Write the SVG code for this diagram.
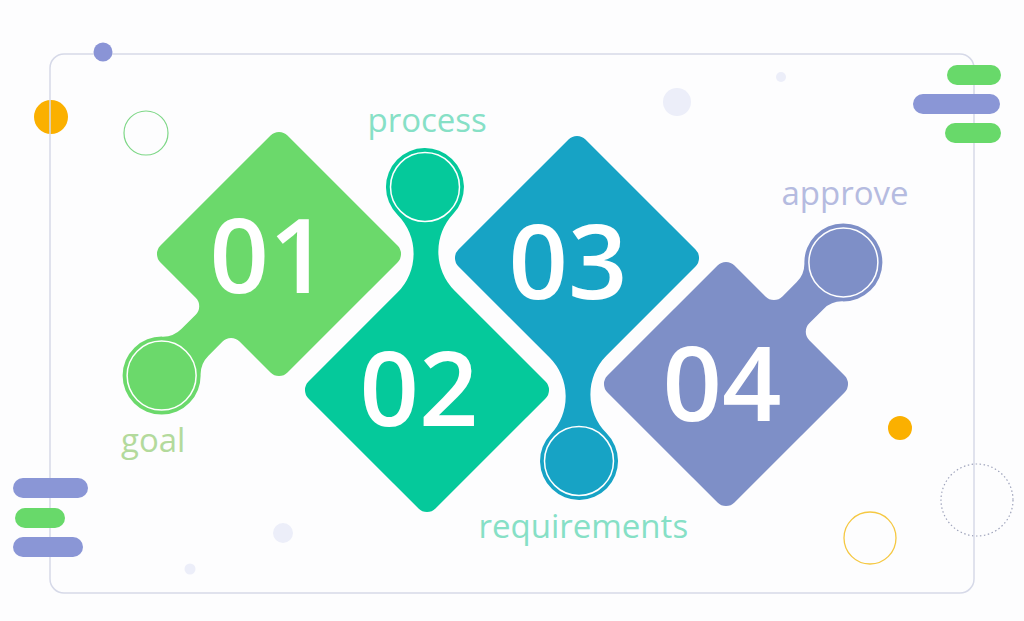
<svg xmlns="http://www.w3.org/2000/svg" width="1024" height="621" viewBox="0 0 1024 621">
  <defs>
    <style>
      .num { font-family: "Open Sans", "Liberation Sans", sans-serif; font-weight: 600; font-size: 104px; fill: #ffffff; text-anchor: middle; }
      .lbl { font-family: "Open Sans", "Liberation Sans", sans-serif; font-weight: 400; font-size: 33px; }
      .ring { fill: none; stroke: #ffffff; stroke-width: 1.5; }
      .soft { fill: #eceef9; }
      .bar-g { fill: #68d96a; }
      .bar-b { fill: #8a96d6; }
    </style>
    <path id="vtab" d="M 27.44 -99.56 L 118.51 -8.49 A 12 12 0 0 1 118.51 8.49 L 8.49 118.51 A 12 12 0 0 1 -8.49 118.51 L -118.51 8.49 A 12 12 0 0 1 -118.51 -8.49 L -29.58 -97.42 A 55 55 0 0 0 -29.58 -175.33 A 39 39 0 1 1 26.35 -176.22 A 55 55 0 0 0 27.44 -99.56 Z"/>
    <path id="etab" d="M -77.8 -89.8 L 77.8 -89.8 A 12 12 0 0 1 89.8 -77.8 L 89.8 77.8 A 12 12 0 0 1 77.8 89.8 L 34 89.8 A 12 12 0 0 0 22 101.8 L 22 122.1 A 26 26 0 0 0 30 140.86 A 39 39 0 1 1 -24 140.86 A 26 26 0 0 0 -16 122.1 L -16 101.8 A 12 12 0 0 0 -28 89.8 L -77.8 89.8 A 12 12 0 0 1 -89.8 77.8 L -89.8 -77.8 A 12 12 0 0 1 -77.8 -89.8 Z"/>
  </defs>

  <rect x="0" y="0" width="1024" height="621" fill="#fdfdfe"/>

  <g id="decor">
    <circle cx="51" cy="117" r="17" fill="#fbb000"/>
    <circle cx="977" cy="500" r="36" fill="none" stroke="#9ea3bb" stroke-width="1.2" stroke-dasharray="1.5 2.5"/>
    <rect x="50" y="54" width="924" height="539" rx="14" fill="none" stroke="#d6d9e8" stroke-width="1.5"/>
    <circle cx="103" cy="52" r="9.5" fill="#8a94d6"/>
    <circle cx="146" cy="133" r="22" fill="none" stroke="#7ed787" stroke-width="1.2"/>
    <circle class="soft" cx="677" cy="102" r="14"/>
    <circle class="soft" cx="781" cy="77" r="5"/>
    <circle class="soft" cx="283" cy="533" r="10"/>
    <circle class="soft" cx="190" cy="569" r="5.5"/>
    <circle cx="900" cy="428" r="12" fill="#fbb000"/>
    <circle cx="870" cy="538" r="26" fill="none" stroke="#f5c842" stroke-width="1.3"/>
    <rect class="bar-g" x="947" y="65" width="54" height="20" rx="10"/>
    <rect class="bar-b" x="913" y="94" width="87" height="20" rx="10"/>
    <rect class="bar-g" x="945" y="123" width="56" height="20" rx="10"/>
    <rect class="bar-b" x="13" y="478" width="75" height="20" rx="10"/>
    <rect class="bar-g" x="15" y="508" width="50" height="20" rx="10"/>
    <rect class="bar-b" x="13" y="537" width="70" height="20" rx="10"/>
  </g>

  <g id="step-01">
    <g transform="translate(279 254) rotate(45)">
      <use href="#etab" fill="#6bd96b"/>
      <circle class="ring" cx="3" cy="169" r="34.5"/>
    </g>
    <text class="num" x="269" y="293">01</text>
    <text class="lbl" x="121" y="451.5" fill="#b3da9c">goal</text>
  </g>

  <g id="step-02">
    <g transform="translate(427 390)">
      <use href="#vtab" fill="#05c99b"/>
      <circle class="ring" cx="-2" cy="-203" r="34.5"/>
    </g>
    <text class="num" x="419" y="426">02</text>
    <text class="lbl" x="367.5" y="131.5" fill="#86e0c6">process</text>
  </g>

  <g id="step-03">
    <g transform="translate(577 258) rotate(180)">
      <use href="#vtab" fill="#17a3c5"/>
      <circle class="ring" cx="-2" cy="-203" r="34.5"/>
    </g>
    <text class="num" x="568" y="299">03</text>
    <text class="lbl" x="478.5" y="537.5" fill="#86e0c6">requirements</text>
  </g>

  <g id="step-04">
    <g transform="translate(726 384) rotate(225)">
      <use href="#etab" fill="#7e8fc7"/>
      <circle class="ring" cx="3" cy="169" r="34.5"/>
    </g>
    <text class="num" x="722" y="421">04</text>
    <text class="lbl" x="781.5" y="205" fill="#b5bbe0">approve</text>
  </g>
</svg>
